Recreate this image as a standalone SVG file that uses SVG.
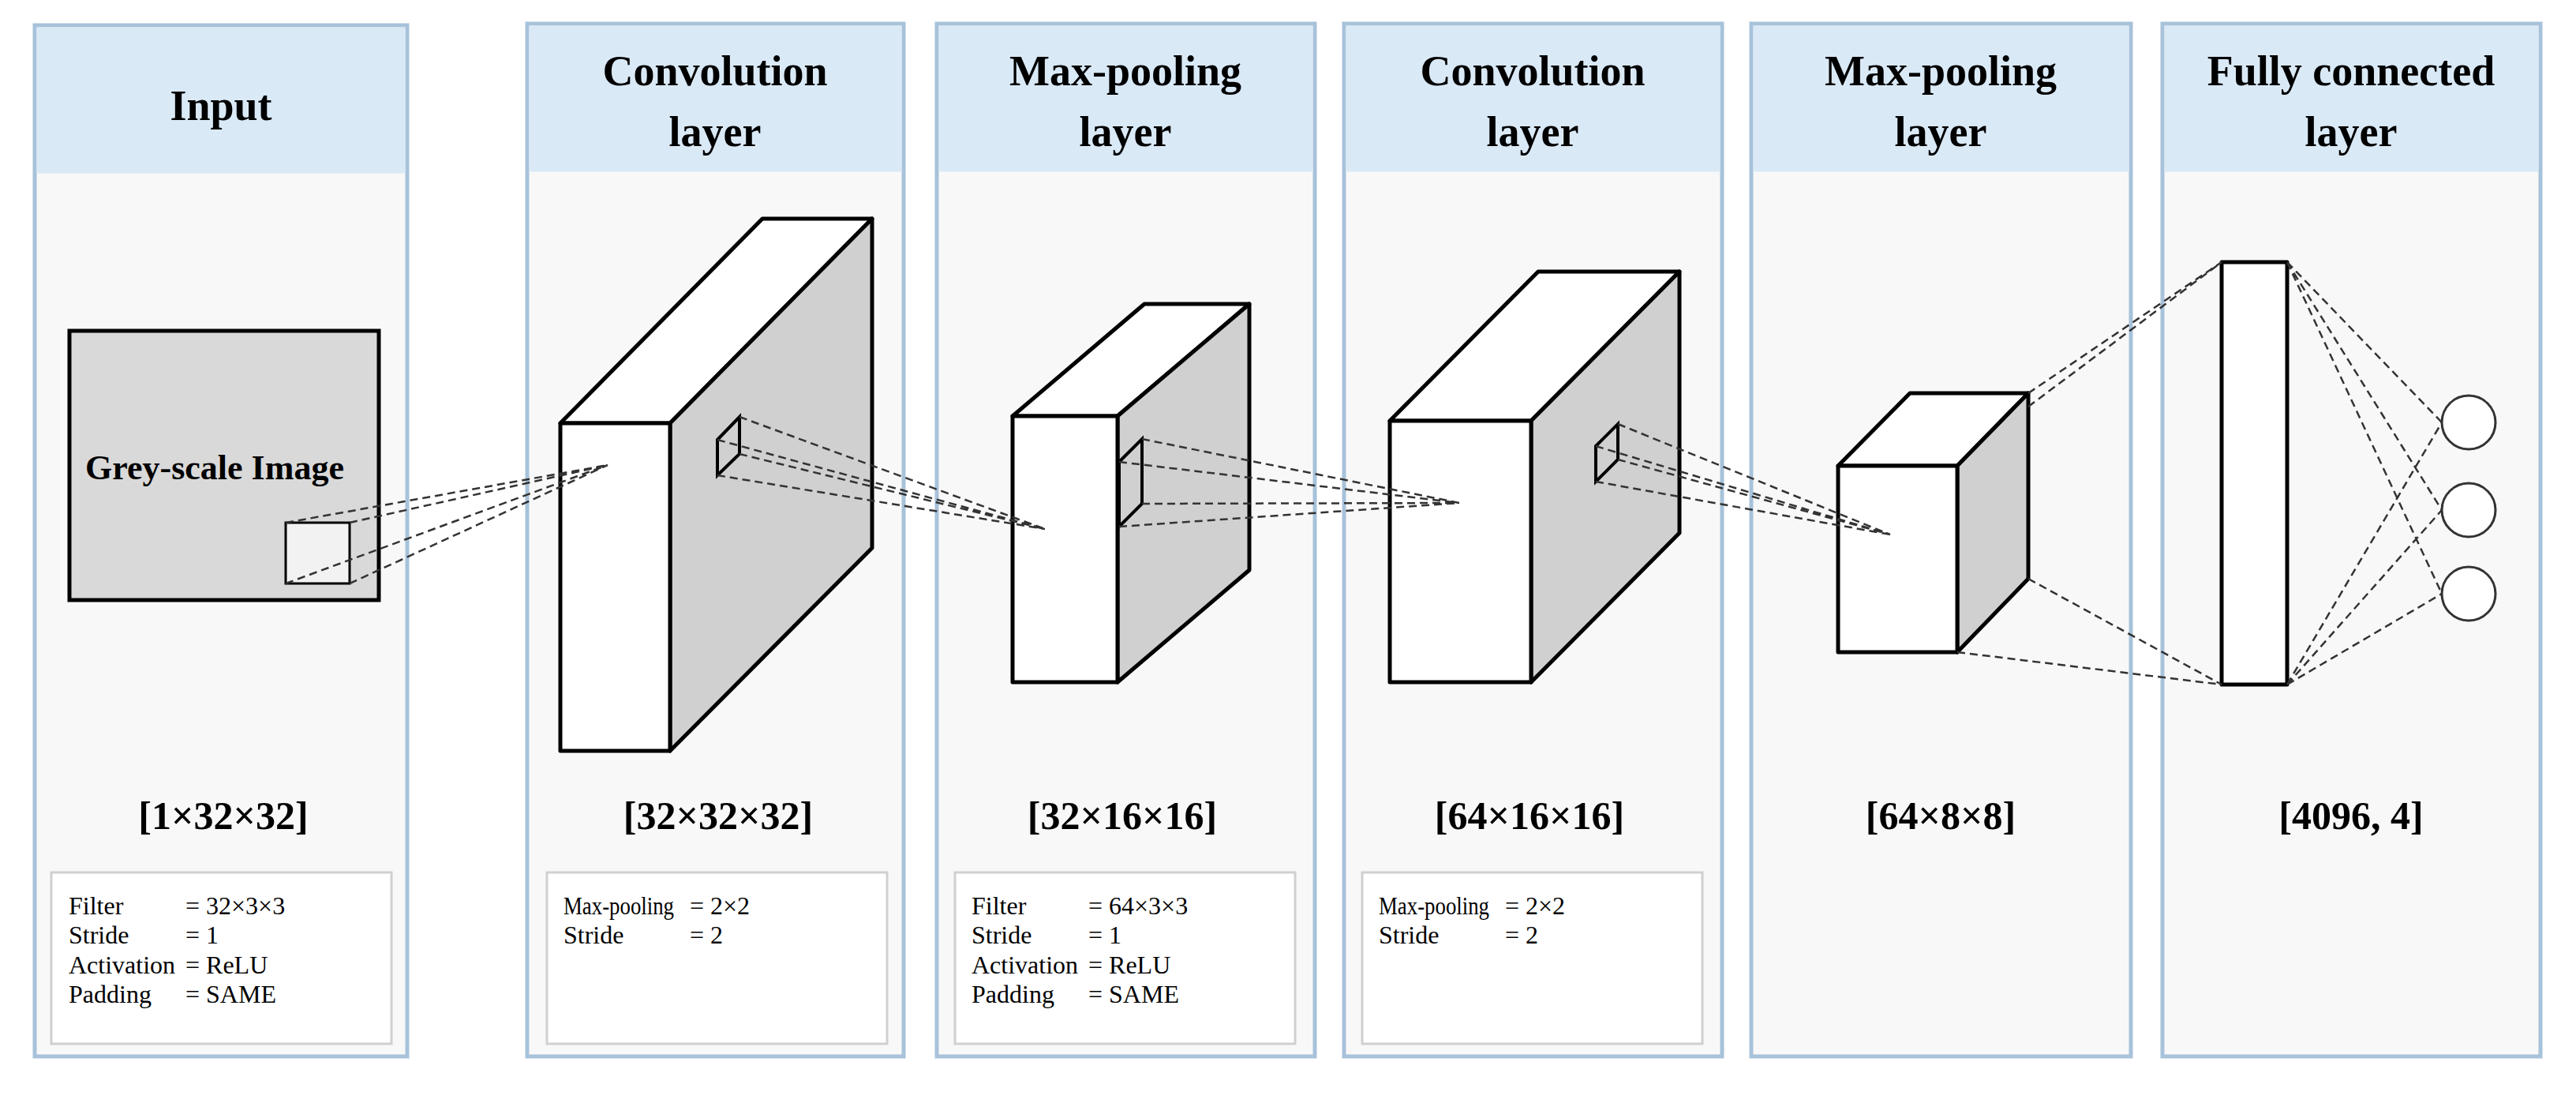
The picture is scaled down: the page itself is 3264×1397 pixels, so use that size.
<svg xmlns="http://www.w3.org/2000/svg" width="3264" height="1397" viewBox="0 0 3264 1397">
<style>
.panel{fill:#f8f8f8;stroke:#a7c2da;stroke-width:5}
.hdr{fill:#dae9f6}
.t{font-family:"Liberation Serif",serif;font-weight:bold;fill:#000;text-anchor:middle}
.h{font-size:54px}
.dim{font-size:50px}
.p{font-family:"Liberation Serif",serif;font-size:32px;fill:#000}
.box{fill:#fff;stroke:#d0d0d0;stroke-width:3}
.w{fill:#fff;stroke:#000;stroke-width:5;stroke-linejoin:round}
.g{fill:#d0d0d0;stroke:#000;stroke-width:5;stroke-linejoin:round}
.k{fill:none;stroke:#000;stroke-width:4}
.d{stroke:#333;stroke-width:2.5;stroke-dasharray:10 6;fill:none}
</style>
<g id="panel-input">
<rect class="panel" x="44" y="32" width="472" height="1306"/>
<rect class="hdr" x="46.5" y="34.5" width="467" height="185"/>
<text class="t h" x="280" y="152">Input</text>
<rect x="88" y="419" width="392" height="341" fill="#d9d9d9" stroke="#000" stroke-width="5"/>
<text class="t" x="272" y="607" font-size="44">Grey-scale Image</text>
<rect x="362" y="662" width="81" height="77" fill="#f2f2f2" stroke="#000" stroke-width="3"/>
<text class="t dim" x="283" y="1050">[1×32×32]</text>
<rect class="box" x="65" y="1105" width="431" height="217"/>
<text class="p" x="87" y="1158">Filter</text><text class="p" x="235" y="1158">=  32×3×3</text>
<text class="p" x="87" y="1195">Stride</text><text class="p" x="235" y="1195">=  1</text>
<text class="p" x="87" y="1233">Activation</text><text class="p" x="235" y="1233">=  ReLU</text>
<text class="p" x="87" y="1270">Padding</text><text class="p" x="235" y="1270">=  SAME</text>
</g>
<g id="panel-conv1">
<rect class="panel" x="668" y="30" width="477" height="1308"/>
<rect class="hdr" x="670.5" y="32.5" width="472" height="185"/>
<text class="t h" x="906" y="108">Convolution</text>
<text class="t h" x="906" y="185">layer</text>
<polygon class="w" points="710,536 966,277 1105,277 849,536"/>
<polygon class="g" points="849,536 1105,277 1105,694 849,951"/>
<rect class="w" x="710" y="536" width="139" height="415"/>
<polygon class="k" points="909,557 937,528 937,575 909,602"/>
<text class="t dim" x="910" y="1050">[32×32×32]</text>
<rect class="box" x="693" y="1105" width="431" height="217"/>
<text class="p" x="714" y="1158" textLength="140" lengthAdjust="spacingAndGlyphs">Max-pooling</text><text class="p" x="874" y="1158">=  2×2</text>
<text class="p" x="714" y="1195">Stride</text><text class="p" x="874" y="1195">=  2</text>
</g>
<g id="panel-pool1">
<rect class="panel" x="1187" y="30" width="479" height="1308"/>
<rect class="hdr" x="1189.5" y="32.5" width="474" height="185"/>
<text class="t h" x="1426" y="108">Max-pooling</text>
<text class="t h" x="1426" y="185">layer</text>
<polygon class="w" points="1283,527 1450,385 1583,385 1416,527"/>
<polygon class="g" points="1416,527 1583,385 1583,722 1416,864"/>
<rect class="w" x="1283" y="527" width="133" height="337"/>
<polygon class="k" points="1418,585 1447,556 1447,638 1418,667"/>
<text class="t dim" x="1422" y="1050">[32×16×16]</text>
<rect class="box" x="1210" y="1105" width="431" height="217"/>
<text class="p" x="1231" y="1158">Filter</text><text class="p" x="1379" y="1158">=  64×3×3</text>
<text class="p" x="1231" y="1195">Stride</text><text class="p" x="1379" y="1195">=  1</text>
<text class="p" x="1231" y="1233">Activation</text><text class="p" x="1379" y="1233">=  ReLU</text>
<text class="p" x="1231" y="1270">Padding</text><text class="p" x="1379" y="1270">=  SAME</text>
</g>
<g id="panel-conv2">
<rect class="panel" x="1703" y="30" width="479" height="1308"/>
<rect class="hdr" x="1705.5" y="32.5" width="474" height="185"/>
<text class="t h" x="1942" y="108">Convolution</text>
<text class="t h" x="1942" y="185">layer</text>
<polygon class="w" points="1761,533 1949,344 2128,344 1940,533"/>
<polygon class="g" points="1940,533 2128,344 2128,675 1940,864"/>
<rect class="w" x="1761" y="533" width="179" height="331"/>
<polygon class="k" points="2022,565 2050,537 2050,582 2022,610"/>
<text class="t dim" x="1938" y="1050">[64×16×16]</text>
<rect class="box" x="1726" y="1105" width="431" height="217"/>
<text class="p" x="1747" y="1158" textLength="140" lengthAdjust="spacingAndGlyphs">Max-pooling</text><text class="p" x="1907" y="1158">=  2×2</text>
<text class="p" x="1747" y="1195">Stride</text><text class="p" x="1907" y="1195">=  2</text>
</g>
<g id="panel-pool2">
<rect class="panel" x="2219" y="30" width="481" height="1308"/>
<rect class="hdr" x="2221.5" y="32.5" width="476" height="185"/>
<text class="t h" x="2459" y="108">Max-pooling</text>
<text class="t h" x="2459" y="185">layer</text>
<polygon class="w" points="2329,590 2420,498 2570,498 2480,590"/>
<polygon class="g" points="2480,590 2570,498 2570,733 2480,826"/>
<rect class="w" x="2329" y="590" width="151" height="236"/>
<text class="t dim" x="2459" y="1050">[64×8×8]</text>
</g>
<g id="panel-fc">
<rect class="panel" x="2740" y="30" width="479" height="1308"/>
<rect class="hdr" x="2742.5" y="32.5" width="474" height="185"/>
<text class="t h" x="2979" y="108">Fully connected</text>
<text class="t h" x="2979" y="185">layer</text>
<rect class="w" x="2815" y="332" width="83" height="535"/>
<circle cx="3128" cy="535" r="34" fill="#fff" stroke="#333" stroke-width="3"/>
<circle cx="3128" cy="646" r="34" fill="#fff" stroke="#333" stroke-width="3"/>
<circle cx="3128" cy="752" r="34" fill="#fff" stroke="#333" stroke-width="3"/>
<text class="t dim" x="2979" y="1050">[4096, 4]</text>
</g>
<g id="connectors">
<path class="d" d="M362,662L770,589M443,662L770,589M443,739L770,589M362,739L770,589"/>
<path class="d" d="M909,557L1324,670M937,528L1324,670M937,575L1324,670M909,602L1324,670"/>
<path class="d" d="M1418,585L1849,637M1447,556L1849,637M1447,638L1849,637M1418,667L1849,637"/>
<path class="d" d="M2022,565L2395,677M2050,537L2395,677M2050,582L2395,677M2022,610L2395,677"/>
<path class="d" d="M2570,498L2815,332M2570,515L2815,332M2570,733L2815,867M2480,826L2815,867"/>
<path class="d" d="M2898,332L3094,535M2898,332L3094,646M2898,332L3094,752M2898,867L3094,535M2898,867L3094,646M2898,867L3094,752"/>
</g>
</svg>
